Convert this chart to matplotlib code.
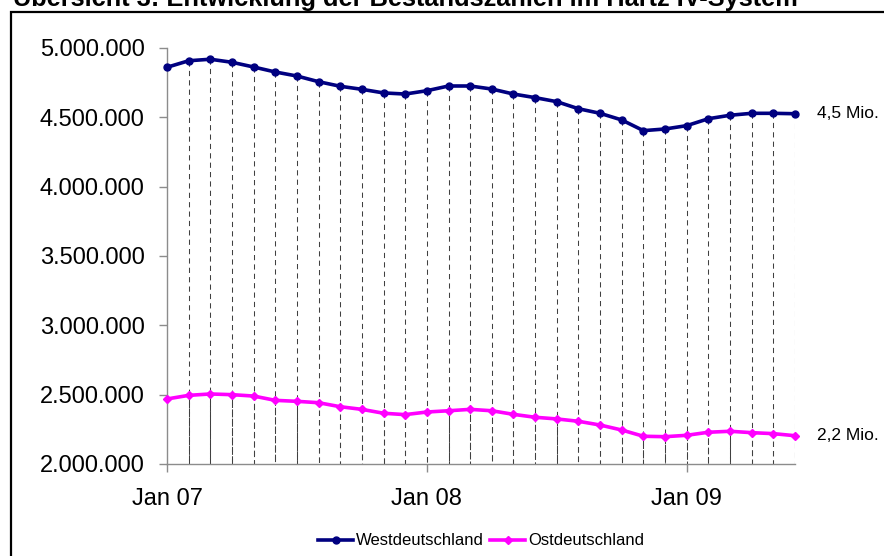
import numpy as np
import matplotlib
matplotlib.use('Agg')
import matplotlib.pyplot as plt
from matplotlib.patches import Rectangle
from matplotlib.ticker import FuncFormatter

plt.rcParams['font.family'] = ['Liberation Sans', 'DejaVu Sans']

# Monatswerte Jan 2007 - Jun 2009
months = ['Jan 07', 'Feb 07', 'Mar 07', 'Apr 07', 'Mai 07', 'Jun 07', 'Jul 07', 'Aug 07',
          'Sep 07', 'Okt 07', 'Nov 07', 'Dez 07', 'Jan 08', 'Feb 08', 'Mar 08', 'Apr 08',
          'Mai 08', 'Jun 08', 'Jul 08', 'Aug 08', 'Sep 08', 'Okt 08', 'Nov 08', 'Dez 08',
          'Jan 09', 'Feb 09', 'Mar 09', 'Apr 09', 'Mai 09', 'Jun 09']
west = [4861000, 4908000, 4919000, 4897000, 4863000, 4827000, 4798000, 4757000,
        4724000, 4702000, 4676000, 4668000, 4692000, 4726000, 4726000, 4704000,
        4668000, 4642000, 4613000, 4562000, 4529000, 4481000, 4404000, 4416000,
        4440000, 4490000, 4515000, 4529000, 4529000, 4526000]
ost = [2469000, 2495000, 2505000, 2500000, 2490000, 2459000, 2452000, 2442000,
       2413000, 2394000, 2366000, 2356000, 2375000, 2384000, 2394000, 2384000,
       2358000, 2337000, 2325000, 2308000, 2281000, 2245000, 2200000, 2197000,
       2207000, 2229000, 2236000, 2226000, 2219000, 2204000]
tick_labels = ['Jan 07', 'Jan 08', 'Jan 09']
end_labels = ['4,5 Mio.', '2,2 Mio.']

x = np.arange(len(months))
ymin, ymax = 2000000, 5000000

fig = plt.figure(figsize=(8.84, 5.56), dpi=100)
ax = fig.add_axes([167 / 884, 92 / 556, 628 / 884, 416 / 556])

# Lotlinien (gestrichelt) von beiden Reihen zur Achse
ax.vlines(x[1:], west[1:], ymin, colors='#404040', linewidth=0.75,
          linestyles=(0, (5, 4)), zorder=1)
ax.vlines(x[1:], ost[1:], ymin, colors='#404040', linewidth=0.75,
          linestyles=(2, (5, 4)), zorder=1)

ax.plot(x, west, color='#000080', linewidth=2.6, marker='o', markersize=5,
        label='Westdeutschland', zorder=3, clip_on=False)
ax.plot(x, ost, color='#ff00ff', linewidth=2.6, marker='D', markersize=4.5,
        label='Ostdeutschland', zorder=3, clip_on=False)

ax.annotate(end_labels[0], (x[-1], west[-1]), xytext=(16, 0), textcoords='offset points',
            va='center', ha='left', fontsize=12.5)
ax.annotate(end_labels[1], (x[-1], ost[-1]), xytext=(16, 0), textcoords='offset points',
            va='center', ha='left', fontsize=12.5)

ax.set_xlim(0, len(months) - 1)
ax.set_ylim(ymin, ymax)
ax.set_yticks(np.arange(ymin, ymax + 1, 500000))
ax.yaxis.set_major_formatter(FuncFormatter(lambda v, p: f'{int(v):,}'.replace(',', '.')))
ax.set_xticks([months.index(t) for t in tick_labels])
ax.set_xticklabels(tick_labels)

for s in ['top', 'right']:
    ax.spines[s].set_visible(False)
for s in ['left', 'bottom']:
    ax.spines[s].set_color('#8c8c8c')
    ax.spines[s].set_linewidth(1)
ax.tick_params(axis='y', direction='out', length=6, width=1, color='#8c8c8c',
               labelsize=17, pad=10)
ax.tick_params(axis='x', direction='out', length=6, width=1, color='#8c8c8c',
               labelsize=17, pad=11)

ax.legend(loc='center', bbox_to_anchor=(0.5, -0.185), ncol=2, frameon=False,
          fontsize=12, handlelength=2.1, handletextpad=0.15, columnspacing=0.4)

# Titel (oben angeschnitten) und Rahmen
fig.text(13 / 884, 1 - 6 / 556, 'Übersicht 3: Entwicklung der Bestandszahlen im Hartz IV-System',
         fontsize=18.3, fontweight='bold', va='baseline', ha='left')
fig.patches.append(Rectangle((11 / 884, -0.1), 1.2, 0.1 + (556 - 12) / 556,
                             transform=fig.transFigure, fill=False,
                             edgecolor='black', linewidth=1.6))

fig.savefig('out.png', dpi=100)
